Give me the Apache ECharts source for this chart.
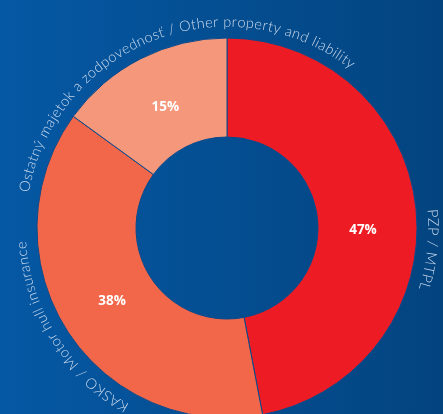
<!DOCTYPE html>
<html>
<head>
<meta charset="utf-8">
<script src="https://cdn.jsdelivr.net/npm/echarts@6/dist/echarts.min.js"></script>
<style>
  html, body { margin: 0; padding: 0; }
  #chart { width: 443px; height: 414px; }
</style>
</head>
<body>
<div id="chart"></div>
<script>
// Portfolio structure by line of business
const categories = ['PZP / MTPL', 'KASKO / Motor hull insurance', 'Ostatný majetok a zodpovednosť / Other property and liability'];
const shares = [47, 38, 15];
const sliceColors = ['#ED1C24', '#F26749', '#F5977A'];

const CENTER = [227, 228];
const RADIUS = [91, 190];
const TEXT_RADIUS = 206;
const VALUE_RADIUS = 136;
const START_ANGLE = 90; // degrees, counter-clockwise from 3 o'clock; slices run clockwise

// Per-slice angular nudges (degrees, clockwise) for the curved names and the value labels
const nameShift = [11.5, 0, 6];
const valueShift = [6.5, 0, 0];

const chart = echarts.init(document.getElementById('chart'));

const measureCtx = document.createElement('canvas').getContext('2d');
const LABEL_FONT = '300 14.5px Lato';
measureCtx.font = LABEL_FONT;
const LETTER_SPACING = 0.55;

function polar(r, a) {
  // a: radians, clockwise from 12 o'clock
  return [CENTER[0] + r * Math.sin(a), CENTER[1] - r * Math.cos(a)];
}

// Curved category names: one glyph per text element, laid along an arc outside the ring
function arcText(text, midAngle) {
  const chars = Array.from(text);
  const widths = chars.map(ch => measureCtx.measureText(ch).width + LETTER_SPACING);
  const total = widths.reduce((a, b) => a + b, 0);
  let pos = midAngle - total / 2 / TEXT_RADIUS;
  return chars.map((ch, i) => {
    const a = pos + widths[i] / 2 / TEXT_RADIUS;
    pos += widths[i] / TEXT_RADIUS;
    const p = polar(TEXT_RADIUS, a);
    return {
      type: 'text',
      x: p[0],
      y: p[1],
      rotation: -a,
      z: 100,
      silent: true,
      style: {
        text: ch, x: 0, y: 0,
        align: 'center', verticalAlign: 'middle',
        fill: '#CBD9EC', font: LABEL_FONT
      }
    };
  });
}

// Percentage printed inside each slice
function valueText(v, midAngle) {
  const p = polar(VALUE_RADIUS, midAngle);
  return {
    type: 'text',
    x: p[0], y: p[1],
    z: 100,
    silent: true,
    style: {
      text: v + '%', x: 0, y: 0,
      align: 'center', verticalAlign: 'middle',
      fill: '#FFFFFF', font: 'bold 13.5px "Open Sans"'
    }
  };
}

const sum = shares.reduce((a, b) => a + b, 0);
const startRad = (90 - START_ANGLE) * Math.PI / 180;
const deg = Math.PI / 180;
let acc = 0;
const overlays = [];
shares.forEach((v, i) => {
  const mid = startRad + (acc + v / 2) / sum * Math.PI * 2;
  acc += v;
  overlays.push(...arcText(categories[i], mid + nameShift[i] * deg));
  overlays.push(valueText(v, mid + valueShift[i] * deg));
});

chart.setOption({
  backgroundColor: {
    type: 'linear', x: 0, y: 0, x2: 1, y2: 0,
    colorStops: [
      { offset: 0, color: '#0558A4' },
      { offset: 1, color: '#03447F' }
    ]
  },
  animation: false,
  series: [{
    type: 'pie',
    center: CENTER,
    radius: RADIUS,
    startAngle: START_ANGLE,
    clockwise: true,
    silent: true,
    z: 1,
    itemStyle: { borderColor: '#0A4A8C', borderWidth: 1 },
    label: { show: false },
    labelLine: { show: false },
    data: shares.map((v, i) => ({
      name: categories[i],
      value: v,
      itemStyle: { color: sliceColors[i] }
    }))
  }],
  graphic: overlays
});
</script>
</body>
</html>
